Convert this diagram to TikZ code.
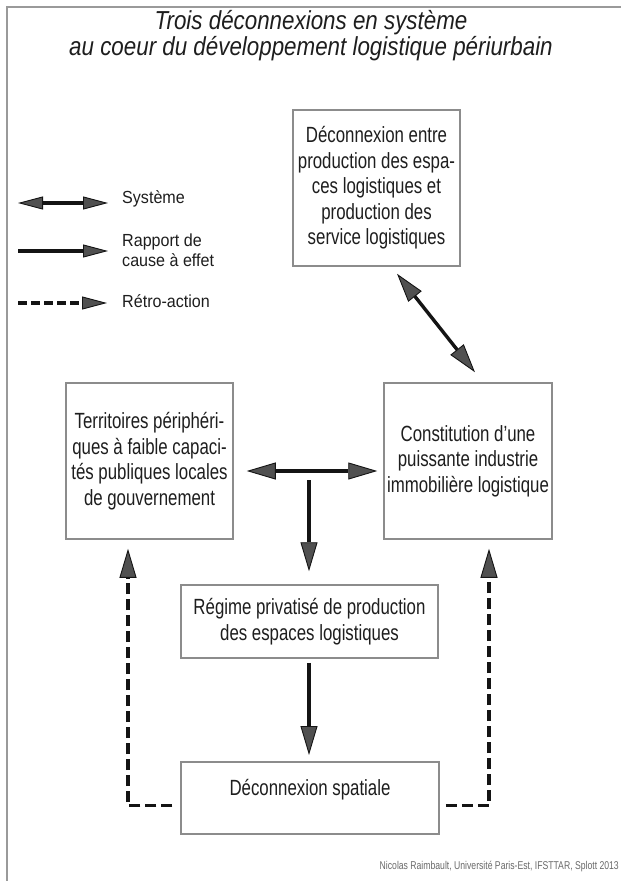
\documentclass[tikz,border=0pt]{standalone}
\usepackage{fontspec}
\setmainfont{Liberation Sans}[FakeStretch=0.765]
\newfontfamily\titlefont{Liberation Sans}[FakeStretch=0.86]
\newfontfamily\legfont{Liberation Sans}[FakeStretch=0.92]
\usetikzlibrary{arrows.meta,calc}
\definecolor{framegray}{HTML}{9A9A9A}
\definecolor{boxgray}{HTML}{8C8C8C}
\definecolor{txt}{HTML}{1E1E1E}
\definecolor{headgray}{HTML}{505050}
\definecolor{footgray}{HTML}{6A6A6A}
\begin{document}
\begin{tikzpicture}[x=1pt,y=-1pt,
  box/.style={draw=boxgray,line width=1.5pt,fill=white,inner sep=0pt,text=txt,align=center,
    font=\fontsize{22}{25.5}\selectfont},
  conn/.style={line width=3.4pt,draw=black!92},
  dashconn/.style={conn,dash pattern=on 11pt off 5pt},
  >={Triangle[length=29pt,width=17pt,fill=headgray,line width=0.9pt]},
  legtip/.style={>={Triangle[length=25pt,width=13pt,fill=headgray,line width=0.9pt]}},
  legtext/.style={anchor=west,inner sep=0pt,text=txt,align=left,font=\legfont\fontsize{17.5}{19.5}\selectfont}
]
\useasboundingbox (0,0) rectangle (621,881);
\fill[white] (0,0) rectangle (621,881);
% frame
\draw[framegray,line width=2.4pt] (7,881) -- (7,7) -- (621,7);

% title
\node[text=txt,align=center,inner sep=0pt,font=\titlefont\itshape\fontsize{26}{26}\selectfont] (title) at (311,36)
  {Trois déconnexions en système\\au coeur du développement logistique périurbain};

% legend
\node[legtext] (lsys) at (122,199) {Système};
\node[legtext] (lcause) at (122,250) {Rapport de\\cause à effet};
\node[legtext] (lretro) at (122,301) {Rétro-action};
\coordinate (s1) at (18,203); \coordinate (s2) at (108,203);
\coordinate (c1) at (18,251); \coordinate (c2) at (108,251);
\coordinate (r1) at (18,303); \coordinate (r2) at (107,303);
\draw[conn,legtip,<->] (s1) -- (s2);
\draw[conn,legtip,->] (c1) -- (c2);
\draw[conn,legtip,->,dash pattern=on 9pt off 4pt] (r1) -- (r2);

% boxes
\node[box,minimum width=167pt,minimum height=156pt] (tb) at (376.5,188)
  {Déconnexion entre\\production des espa-\\ces logistiques et\\production des\\service logistiques};
\node[box,minimum width=167pt,minimum height=156pt] (lb) at (149.5,461)
  {Territoires périphéri-\\ques à faible capaci-\\tés publiques locales\\de gouvernement};
\node[box,minimum width=168pt,minimum height=156pt] (rb) at (468,461)
  {Constitution d'une\\puissante industrie\\immobilière logistique};
\node[box,minimum width=257pt,minimum height=73pt] (reg) at (309.5,621.5)
  {Régime privatisé de production\\des espaces logistiques};
\node[box,minimum width=258pt,minimum height=72pt,text height=33.5pt,text depth=38.5pt,anchor=north] (sp) at (310,761)
  {Déconnexion spatiale};

% connectors
\draw[conn,<->] ([xshift=20.5pt,yshift=-7pt]tb.south) -- ([xshift=7pt,yshift=10pt]rb.north);
\draw[conn,<->] ([xshift=13pt,yshift=-10pt]lb.east) -- ([xshift=-6pt,yshift=-10pt]rb.west);
\coordinate (tj) at (309,480);
\draw[conn,->] (tj) -- ([xshift=-0.5pt,yshift=13pt]reg.north);
\draw[conn,->] ([xshift=-0.5pt,yshift=-4pt]reg.south) -- ([xshift=-1pt,yshift=6pt]sp.north);
\draw[dashconn,->] ([xshift=-8pt,yshift=-8pt]sp.west) -| ([xshift=-21.5pt,yshift=-9pt]lb.south);
\draw[dashconn,->] ([xshift=6pt,yshift=-8pt]sp.east) -| ([xshift=21pt,yshift=-9pt]rb.south);

% footer
\node[anchor=east,inner sep=0pt,text=footgray,font=\fontsize{11.3}{13}\selectfont] (foot) at (619,867)
  {Nicolas Raimbault, Université Paris-Est, IFSTTAR, Splott 2013};
\end{tikzpicture}
\end{document}
